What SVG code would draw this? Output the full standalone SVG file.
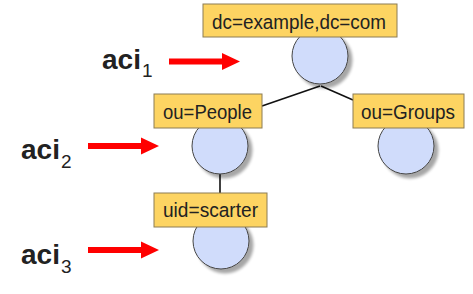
<svg xmlns="http://www.w3.org/2000/svg" width="473" height="294" viewBox="0 0 473 294">
<defs>
<filter id="sh" x="-30%" y="-30%" width="160%" height="160%">
<feGaussianBlur in="SourceAlpha" stdDeviation="1.5"/>
<feOffset dx="4" dy="4" result="b"/>
<feComponentTransfer><feFuncA type="linear" slope="0.35"/></feComponentTransfer>
<feMerge><feMergeNode/><feMergeNode in="SourceGraphic"/></feMerge>
</filter>
</defs>
<style>
.c{fill:#d0dcfb;stroke:#444;stroke-width:1;filter:url(#sh)}
.b{fill:#fdd462;stroke:#8c7d55;stroke-width:1}
.t{font-family:"Liberation Sans",Arial,sans-serif;font-size:20.5px;fill:#222}
.a{font-family:"Liberation Sans",Arial,sans-serif;font-weight:bold;font-size:28px;fill:#222}
.s{font-size:19px;font-weight:normal}
.ar{fill:#ff0000}
.ln{stroke:#111;stroke-width:1.6;fill:none}
</style>
<rect width="473" height="294" fill="#fff"/>
<g id="connectors">
<line class="ln" x1="320" y1="86" x2="262" y2="106"/>
<line class="ln" x1="321" y1="86" x2="353" y2="100"/>
<line class="ln" x1="220" y1="174" x2="220" y2="193"/>
</g>
<g id="root">
<circle class="c" cx="320" cy="56" r="28"/>
<rect class="b" x="203" y="4" width="194" height="33"/>
<text class="t" x="212" y="28.5" textLength="174" lengthAdjust="spacingAndGlyphs">dc=example,dc=com</text>
</g>
<g id="people">
<circle class="c" cx="220" cy="146" r="28"/>
<rect class="b" x="154" y="94" width="108" height="34"/>
<text class="t" x="163" y="119" textLength="89" lengthAdjust="spacingAndGlyphs">ou=People</text>
</g>
<g id="groups">
<circle class="c" cx="406" cy="146" r="28"/>
<rect class="b" x="353" y="94" width="111" height="34"/>
<text class="t" x="361" y="119" textLength="94" lengthAdjust="spacingAndGlyphs">ou=Groups</text>
</g>
<g id="scarter">
<circle class="c" cx="221" cy="241" r="28"/>
<rect class="b" x="154" y="193" width="113" height="34"/>
<text class="t" x="163" y="217" textLength="95" lengthAdjust="spacingAndGlyphs">uid=scarter</text>
</g>
<g id="aci1">
<text class="a" x="102" y="69">aci<tspan class="s" dx="1" dy="8">1</tspan></text>
<polygon class="ar" points="169,58.5 222,58.5 222,53 240,61.5 222,70 222,64.5 169,64.5"/>
</g>
<g id="aci2">
<text class="a" x="21" y="159">aci<tspan class="s" dx="1" dy="9">2</tspan></text>
<polygon class="ar" points="88,143 141,143 141,137.5 159,146 141,154.5 141,149 88,149"/>
</g>
<g id="aci3">
<text class="a" x="21" y="264">aci<tspan class="s" dx="1" dy="9">3</tspan></text>
<polygon class="ar" points="88,247 141,247 141,241.5 159,250 141,258.5 141,253 88,253"/>
</g>
</svg>
